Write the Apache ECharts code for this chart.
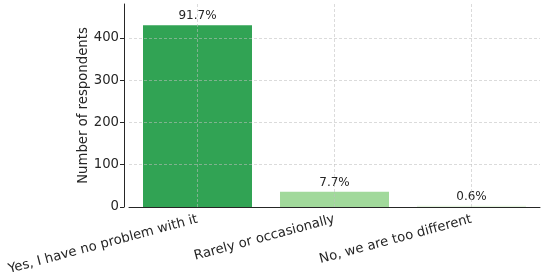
<!DOCTYPE html>
<html>
<head>
<meta charset="utf-8">
<script src="https://cdn.jsdelivr.net/npm/echarts@6/dist/echarts.min.js"></script>
<style>
  html, body { margin: 0; padding: 0; background: #fff; }
  #main { width: 550px; height: 276px; }
</style>
</head>
<body>
<div id="main"></div>
<script>
// 数据
var categories = ['Yes, I have no problem with it', 'Rarely or occasionally', 'No, we are too different'];
var counts = [430, 36, 3];
var pctLabels = ['91.7%', '7.7%', '0.6%'];
var barColors = ['#31a354', '#a1d99b', '#e5f5e0'];
var yTicks = [0, 100, 200, 300, 400];

var myChart = echarts.init(document.getElementById('main'));
var font = 'DejaVu Sans';
var gridLine = { color: 'rgba(190,190,190,0.7)', type: [3, 2], width: 0.8 };

var option = {
  animation: false,
  grid: { left: 129, right: 10, top: 4, bottom: 69, outerBoundsMode: 'none', containLabel: false },
  xAxis: {
    type: 'category',
    z: 5, // 网格线画在柱子上面
    data: categories,
    axisLine: { lineStyle: { color: '#262626', width: 1 } },
    axisTick: { alignWithLabel: true, length: 4, lineStyle: { color: '#262626' } },
    axisLabel: {
      rotate: 15,
      fontFamily: font,
      fontSize: 13.25,
      color: '#262626',
      margin: 12
    },
    // 竖的分割线放在类目中心
    splitLine: { show: true, alignWithLabel: true, lineStyle: gridLine }
  },
  yAxis: {
    type: 'value',
    z: 5,
    min: 0,
    max: 480,
    interval: 100,
    offset: 5,
    name: 'Number of respondents',
    nameLocation: 'middle',
    nameGap: 34,
    nameMoveOverlap: false,
    nameTextStyle: { fontFamily: font, fontSize: 13.25, color: '#262626' },
    axisLine: { show: true, lineStyle: { color: '#262626', width: 1 } },
    axisTick: { show: true, length: 4, lineStyle: { color: '#262626' } },
    axisLabel: {
      fontFamily: font,
      fontSize: 13.25,
      color: '#262626',
      margin: 5,
      showMaxLabel: false,
      formatter: function (v) { return yTicks.indexOf(v) >= 0 ? String(v) : ''; }
    },
    splitLine: { show: true, showMaxLine: false, lineStyle: gridLine }
  },
  series: [{
    type: 'bar',
    barWidth: 109,
    data: counts.map(function (v, i) {
      return { value: v, itemStyle: { color: barColors[i] } };
    }),
    label: {
      show: true,
      position: 'top',
      distance: 3,
      fontFamily: font,
      fontSize: 12,
      color: '#262626',
      formatter: function (p) { return pctLabels[p.dataIndex]; }
    }
  }]
};

myChart.setOption(option);
</script>
</body>
</html>
